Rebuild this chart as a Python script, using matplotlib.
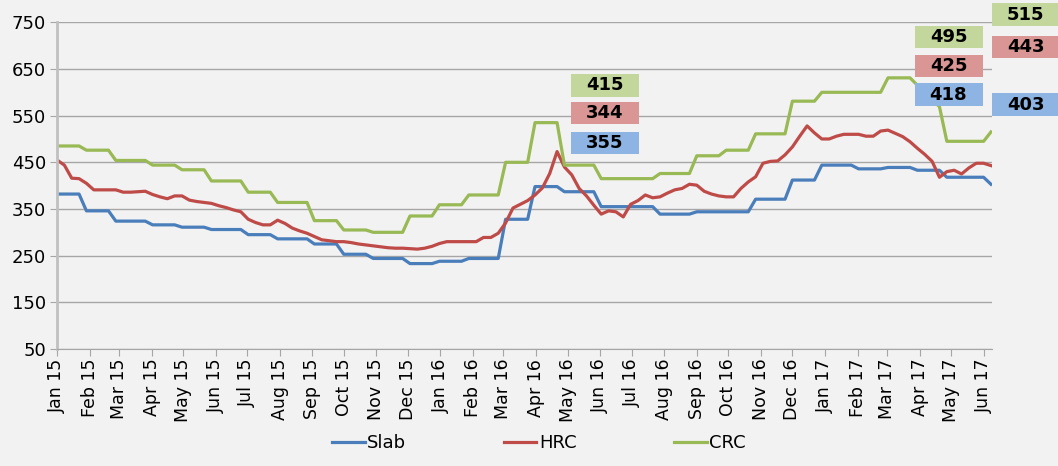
import numpy as np
import pandas as pd
import matplotlib
matplotlib.use("Agg")
import matplotlib.pyplot as plt
import matplotlib.dates as mdates
from matplotlib.patches import Rectangle

# weekly prices, first week = 1 Jan 2015
start = "2015-01-01"

slab = ([382]*4 + [346]*4 + [324]*5 + [316]*4 + [311]*4 + [306]*5 + [295]*4 +
        [286]*5 + [275]*4 + [253]*4 + [244]*5 + [233]*4 + [238]*4 + [244]*5 +
        [328]*4 + [398]*4 + [387]*5 + [355]*8 + [339]*5 + [344]*8 + [371]*5 +
        [412]*4 + [444]*5 + [436]*4 + [439]*4 + [433]*4 + [418]*6 + [403])

hrc = [455, 444, 416, 415, 405, 391, 391, 391, 391, 386, 386, 387, 388, 381, 376, 372,
       378, 378, 369, 366, 364, 362, 357, 353, 348, 344, 328, 321, 316, 316, 326, 319,
       309, 303, 298, 291, 284, 282, 280, 280, 278, 275, 273, 271, 269, 267, 266, 266,
       265, 264, 266, 270, 276, 280, 280, 280, 280, 280, 289, 289, 298, 320, 352, 360,
       368, 380, 395, 426, 473, 440, 423, 394, 378, 358, 339, 346, 344, 333, 360, 368,
       380, 374, 376, 384, 391, 394, 403, 401, 388, 382, 378, 376, 376, 394, 408, 419,
       448, 452, 453, 466, 483, 506, 528, 513, 500, 500, 506, 510, 510, 510, 506, 506,
       517, 519, 512, 505, 494, 480, 467, 452, 418, 430, 433, 425, 438, 448, 448, 443]

crc = ([485]*4 + [476]*4 + [454]*5 + [444]*4 + [434]*4 + [410]*5 + [386]*4 +
       [364]*5 + [325]*4 + [305]*4 + [300]*5 + [335]*4 + [359]*4 + [380]*5 +
       [450]*4 + [535]*4 + [444]*5 + [415]*8 + [426]*5 + [464]*4 + [476]*4 +
       [511]*5 + [581]*4 + [600]*9 + [631]*4 + [615, 600, 585, 569] + [495]*6 + [515])

series_names = ["Slab", "HRC", "CRC"]
line_colors = ["#4A7EBB", "#BE4B48", "#98B954"]
box_colors = ["#8EB4E3", "#D99694", "#C3D69B"]

# weeks that carry a value box
label_weeks = [76, 123, 127]

dates = pd.date_range(start, periods=len(hrc), freq="7D")

W, H = 1058, 466
fig = plt.figure(figsize=(W/100, H/100), dpi=100, facecolor="#F2F2F2")
ax = fig.add_axes([57/W, 1-349/H, (992-57)/W, (349-22.3)/H])
ax.set_facecolor("#F2F2F2")

for name, vals, c in zip(series_names, [slab, hrc, crc], line_colors):
    ax.plot(dates, vals, color=c, lw=2.3, label=name, solid_joinstyle="round")

ax.set_ylim(50, 750)
ax.set_yticks(np.arange(50, 751, 100))
ax.set_xlim(pd.Timestamp("2015-01-01"), pd.Timestamp("2017-06-09"))
ax.xaxis.set_major_locator(mdates.MonthLocator())
ax.xaxis.set_major_formatter(mdates.DateFormatter("%b %y"))
ax.grid(axis="y", color="#A6A6A6", lw=1)
ax.set_axisbelow(True)

for s in ["top", "right"]:
    ax.spines[s].set_visible(False)
ax.spines["left"].set_color("#C0C0C0")
ax.spines["left"].set_linewidth(2)
ax.spines["bottom"].set_color("#A6A6A6")
ax.tick_params(axis="y", length=5, color="#A6A6A6", pad=3, labelsize=13)
ax.tick_params(axis="x", length=5, color="#A6A6A6", pad=2, labelsize=12.5,
               labelrotation=90)

fig.legend(loc="center", bbox_to_anchor=(0.5 + 10/W, 1-443/H), ncol=3, frameon=False,
           fontsize=13, handlelength=1.8, handletextpad=0.15, columnspacing=5.4)

# value boxes (figure pixel positions)
box_x = [604.5, 948.5, 1025.5]
box_y = {
    76: [143, 113, 85.5],
    123: [94.7, 66, 37],
    127: [104.5, 47, 14.5],
}
bw, bh = 68, 22.5
for wk, xc in zip(label_weeks, box_x):
    for k, vals in enumerate([slab, hrc, crc]):
        yc = box_y[wk][k]
        fig.patches.append(Rectangle(((xc-bw/2)/W, 1-(yc+bh/2)/H), bw/W, bh/H,
                                     transform=fig.transFigure, facecolor=box_colors[k],
                                     edgecolor="none", zorder=5))
        fig.text(xc/W, 1-yc/H, str(vals[wk]), ha="center", va="center",
                 fontsize=13, fontweight="bold", color="black", zorder=6)

fig.savefig("out.png", dpi=100, facecolor=fig.get_facecolor())
